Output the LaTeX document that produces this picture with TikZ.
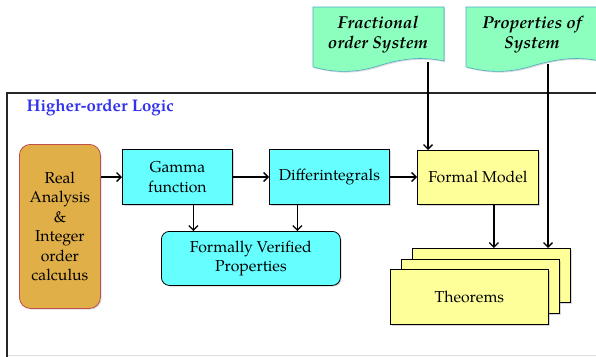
\documentclass[tikz,border=0pt]{standalone}
\usepackage{fontspec}
\setmainfont{TeX Gyre Pagella}
\usetikzlibrary{arrows.meta,calc,shadows}
\definecolor{cyanbox}{HTML}{66FFFF}
\definecolor{yellowbox}{HTML}{FFFF99}
\definecolor{goldbox}{HTML}{E0AF48}
\definecolor{goldedge}{HTML}{C0504D}
\definecolor{docfill}{HTML}{8CFFBE}
\definecolor{docedge}{HTML}{4BACC6}
\definecolor{hoblue}{HTML}{3333EE}
\tikzset{
  shad/.style={drop shadow={opacity=0.3,shadow xshift=1.2pt,shadow yshift=-1.2pt}},
  boxbase/.style={draw=black,line width=0.8pt,inner sep=0pt,align=center,anchor=north west,
    font=\fontsize{15.8}{19.4}\selectfont,shad},
  cyanrect/.style={boxbase,fill=cyanbox},
  yelrect/.style={boxbase,fill=yellowbox},
  cyanround/.style={boxbase,fill=cyanbox,rounded corners=8pt},
  goldround/.style={boxbase,fill=goldbox,draw=goldedge,rounded corners=11pt},
  docshape/.style={fill=docfill,draw=docedge,line width=0.6pt,shad},
  doctext/.style={align=center,font=\fontsize{17.2}{20}\selectfont\bfseries\itshape},
  conn/.style={line width=1.6pt,-{Straight Barb[length=4.5pt,width=9pt,line width=1.3pt]}}
}
\begin{document}
\begin{tikzpicture}[x=1pt,y=-1pt]
\useasboundingbox (0,0) rectangle (596,356);
\clip (0,0) rectangle (596,356);
\fill[white] (0,0) rectangle (596,356);
% outer frame
\draw[line width=1.6pt,black!85] (7,370) -- (7,93) -- (610,93);
\draw[gray!25,line width=0.8pt] (8,355) -- (596,355);
\node[anchor=west,text=hoblue,font=\fontsize{16.8}{18}\selectfont\bfseries] (hol) at (23,108) {Higher-order Logic};
% documents
\path[docshape] (313,7) -- (444,7) -- (444,61) .. controls (420,56) and (400,59) .. (378,66) .. controls (352,74) and (332,72) .. (313,67) -- cycle;
\node[doctext] (frac) at (378,35) {Fractional\\order System};
\path[docshape] (466,7) -- (600,7) -- (600,61) .. controls (576,56) and (556,59) .. (532,66) .. controls (506,74) and (486,72) .. (466,67) -- cycle;
\node[doctext] (props) at (532,35) {Properties of\\System};
\coordinate (fracout) at (428,62);
\coordinate (propsout) at (548,64);
% boxes
\node[goldround,minimum width=81pt,minimum height=164pt] (real) at (19,144) {Real\\Analysis\\\&\\Integer\\order\\calculus};
\node[cyanrect,minimum width=110pt,minimum height=55pt] (gamma) at (122,149) {Gamma\\function};
\node[cyanrect,minimum width=120pt,minimum height=55pt] (diff) at (269,149) {Differintegrals};
\node[yelrect,minimum width=121pt,minimum height=54pt] (formal) at (417,150) {Formal Model};
\node[cyanround,minimum width=179pt,minimum height=54pt] (fvp) at (161,231) {Formally Verified\\Properties};
\node[yelrect,minimum width=158pt,minimum height=54pt] (thm3) at (412,248) {};
\node[yelrect,minimum width=158pt,minimum height=54pt] (thm2) at (401,259) {};
\node[yelrect,minimum width=158pt,minimum height=55pt] (thm1) at (390,269) {Theorems};
% connectors
\draw[conn] ([yshift=-33pt]real.north east) -- ([yshift=-33pt]real.north east -| gamma.west);
\draw[conn] ([yshift=-28pt]gamma.north east) -- ([yshift=-28pt]gamma.north east -| diff.west);
\draw[conn] ([yshift=-28pt]diff.north east) -- ([yshift=-28pt]diff.north east -| formal.west);
\draw[conn] ([xshift=16pt]gamma.south) -- ([xshift=16pt]gamma.south |- fvp.north);
\draw[conn] ([xshift=-32pt]diff.south) -- ([xshift=-32pt]diff.south |- fvp.north);
\draw[conn] (fracout) -- (fracout |- formal.north);
\draw[conn] ([xshift=16pt]formal.south) -- ([xshift=16pt]formal.south |- thm3.north);
\draw[conn] (propsout) -- (propsout |- thm3.north);
\end{tikzpicture}
\end{document}
